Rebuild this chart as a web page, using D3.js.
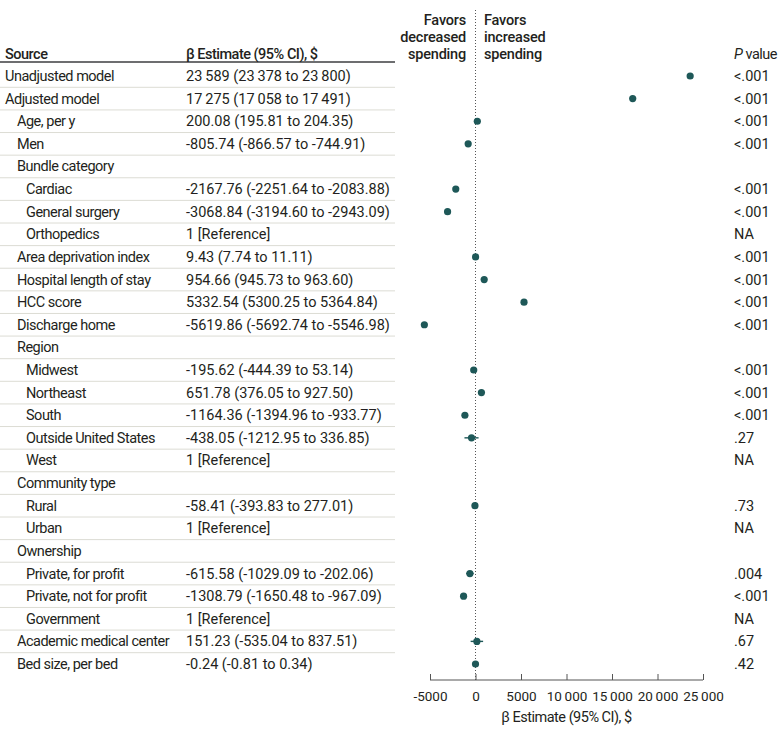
<!DOCTYPE html>
<html><head><meta charset="utf-8">
<script src="https://cdn.jsdelivr.net/npm/d3@7"></script>
<style>body{margin:0;background:#fff}svg{display:block}text{font-family:Roboto,sans-serif;fill:#231f20}.lab{letter-spacing:-0.5px}</style>
</head><body><svg id="c" width="780" height="730"></svg>
<script>
const labels = ["Unadjusted model","Adjusted model","Age, per y","Men","Bundle category","Cardiac","General surgery","Orthopedics","Area deprivation index","Hospital length of stay","HCC score","Discharge home","Region","Midwest","Northeast","South","Outside United States","West","Community type","Rural","Urban","Ownership","Private, for profit","Private, not for profit","Government","Academic medical center","Bed size, per bed"];
const levels = [0,0,1,1,1,2,2,2,1,1,1,1,1,2,2,2,2,2,1,2,2,1,2,2,2,1,1];
const estimates = [23589,17275,200.08,-805.74,null,-2167.76,-3068.84,null,9.43,954.66,5332.54,-5619.86,null,-195.62,651.78,-1164.36,-438.05,null,null,-58.41,null,null,-615.58,-1308.79,null,151.23,-0.24];
const lower = [23378,17058,195.81,-866.57,null,-2251.64,-3194.60,null,7.74,945.73,5300.25,-5692.74,null,-444.39,376.05,-1394.96,-1212.95,null,null,-393.83,null,null,-1029.09,-1650.48,null,-535.04,-0.81];
const upper = [23800,17491,204.35,-744.91,null,-2083.88,-2943.09,null,11.11,963.60,5364.84,-5546.98,null,53.14,927.50,-933.77,336.85,null,null,277.01,null,null,-202.06,-967.09,null,837.51,0.34];
const estText = ["23\u2009589 (23\u2009378 to 23\u2009800)","17\u2009275 (17\u2009058 to 17\u2009491)","200.08 (195.81 to 204.35)","-805.74 (-866.57 to -744.91)","","-2167.76 (-2251.64 to -2083.88)","-3068.84 (-3194.60 to -2943.09)","1 [Reference]","9.43 (7.74 to 11.11)","954.66 (945.73 to 963.60)","5332.54 (5300.25 to 5364.84)","-5619.86 (-5692.74 to -5546.98)","","-195.62 (-444.39 to 53.14)","651.78 (376.05 to 927.50)","-1164.36 (-1394.96 to -933.77)","-438.05 (-1212.95 to 336.85)","1 [Reference]","","-58.41 (-393.83 to 277.01)","1 [Reference]","","-615.58 (-1029.09 to -202.06)","-1308.79 (-1650.48 to -967.09)","1 [Reference]","151.23 (-535.04 to 837.51)","-0.24 (-0.81 to 0.34)"];
const pText = ["<.001","<.001","<.001","<.001","","<.001","<.001","NA","<.001","<.001","<.001","<.001","","<.001","<.001","<.001",".27","NA","",".73","NA","",".004","<.001","NA",".67",".42"];
const xTicks = [-5000,0,5000,10000,15000,20000,25000];

const svg = d3.select("#c");
const idx = d3.range(labels.length);
const y = d3.scalePoint().domain(idx).range([76,664]);
const x = d3.scaleLinear().domain([-5000,25000]).range([430,703]);
const step = y.step();
const col = "#1e5858";
const fs = 14.5;

svg.append("line").attr("x1",0).attr("x2",395).attr("y1",62).attr("y2",62).attr("stroke","#6d6e70").attr("stroke-width",2);
idx.slice(0,-1).forEach(i=>{
  svg.append("line").attr("x1",0).attr("x2",395).attr("y1",y(i)+step/2).attr("y2",y(i)+step/2).attr("stroke","#dcdcd4").attr("stroke-width",1);
});
svg.append("text").attr("class","lab").attr("x",5).attr("y",59).attr("font-size",fs).attr("font-weight",500).text("Source");
svg.append("text").attr("class","lab").attr("x",186).attr("y",59).attr("font-size",fs).attr("font-weight",500).text("\u03B2 Estimate (95% CI), $");
const pv = svg.append("text").attr("class","lab").attr("x",734).attr("y",59).attr("font-size",fs);
pv.append("tspan").attr("font-style","italic").text("P");
pv.append("tspan").text(" value");
["Favors","decreased","spending"].forEach((t,i)=>svg.append("text").attr("x",466).attr("y",25+i*17).attr("text-anchor","end").attr("font-size",fs).attr("font-weight",500).attr("letter-spacing","-0.2px").text(t));
["Favors","increased","spending"].forEach((t,i)=>svg.append("text").attr("x",484).attr("y",25+i*17).attr("font-size",fs).attr("font-weight",500).attr("letter-spacing","-0.2px").text(t));

const g = svg.append("g");
idx.forEach(i=>{
  const yy = y(i)+5;
  g.append("text").attr("class","lab").attr("x",5+[0,12,21][levels[i]]).attr("y",yy).attr("font-size",fs).text(labels[i]);
  if(estText[i]) g.append("text").attr("x",186).attr("y",yy).attr("font-size",fs).text(estText[i]);
  if(pText[i]) g.append("text").attr("x",734).attr("y",yy).attr("font-size",fs).text(pText[i]);
});

svg.append("line").attr("x1",x(0)).attr("x2",x(0)).attr("y1",10).attr("y2",680).attr("stroke","#555").attr("stroke-width",1).attr("stroke-dasharray","1,2");

const pts = idx.filter(i=>estimates[i]!==null);
svg.selectAll("line.ci").data(pts).enter().append("line").attr("class","ci")
  .attr("x1",i=>x(lower[i])).attr("x2",i=>x(upper[i])).attr("y1",i=>y(i)).attr("y2",i=>y(i))
  .attr("stroke",col).attr("stroke-width",1.4);
svg.selectAll("circle.pt").data(pts).enter().append("circle").attr("class","pt")
  .attr("cx",i=>x(estimates[i])).attr("cy",i=>y(i)).attr("r",3.6).attr("fill",col);

const ax = svg.append("g").attr("transform","translate(0,680)")
  .call(d3.axisBottom(x).tickValues(xTicks).tickSize(6).tickFormat(d=>{
    const s = String(d);
    return Math.abs(d)>=10000 ? s.slice(0,-3)+"\u2009"+s.slice(-3) : s;
  }));
ax.select(".domain").attr("stroke","#555").attr("d","M"+x(-5000)+",0H"+x(25000));
ax.selectAll(".tick line").attr("stroke","#555").attr("y2",-6);
ax.selectAll(".tick text").attr("font-size",13.5).attr("font-family","Roboto,sans-serif").attr("fill","#231f20").attr("y",16).attr("dy","0.4em");
svg.append("text").attr("class","lab").attr("x",x(10000)).attr("y",722).attr("text-anchor","middle").attr("font-size",fs).text("\u03B2 Estimate (95% CI), $");
</script></body></html>
